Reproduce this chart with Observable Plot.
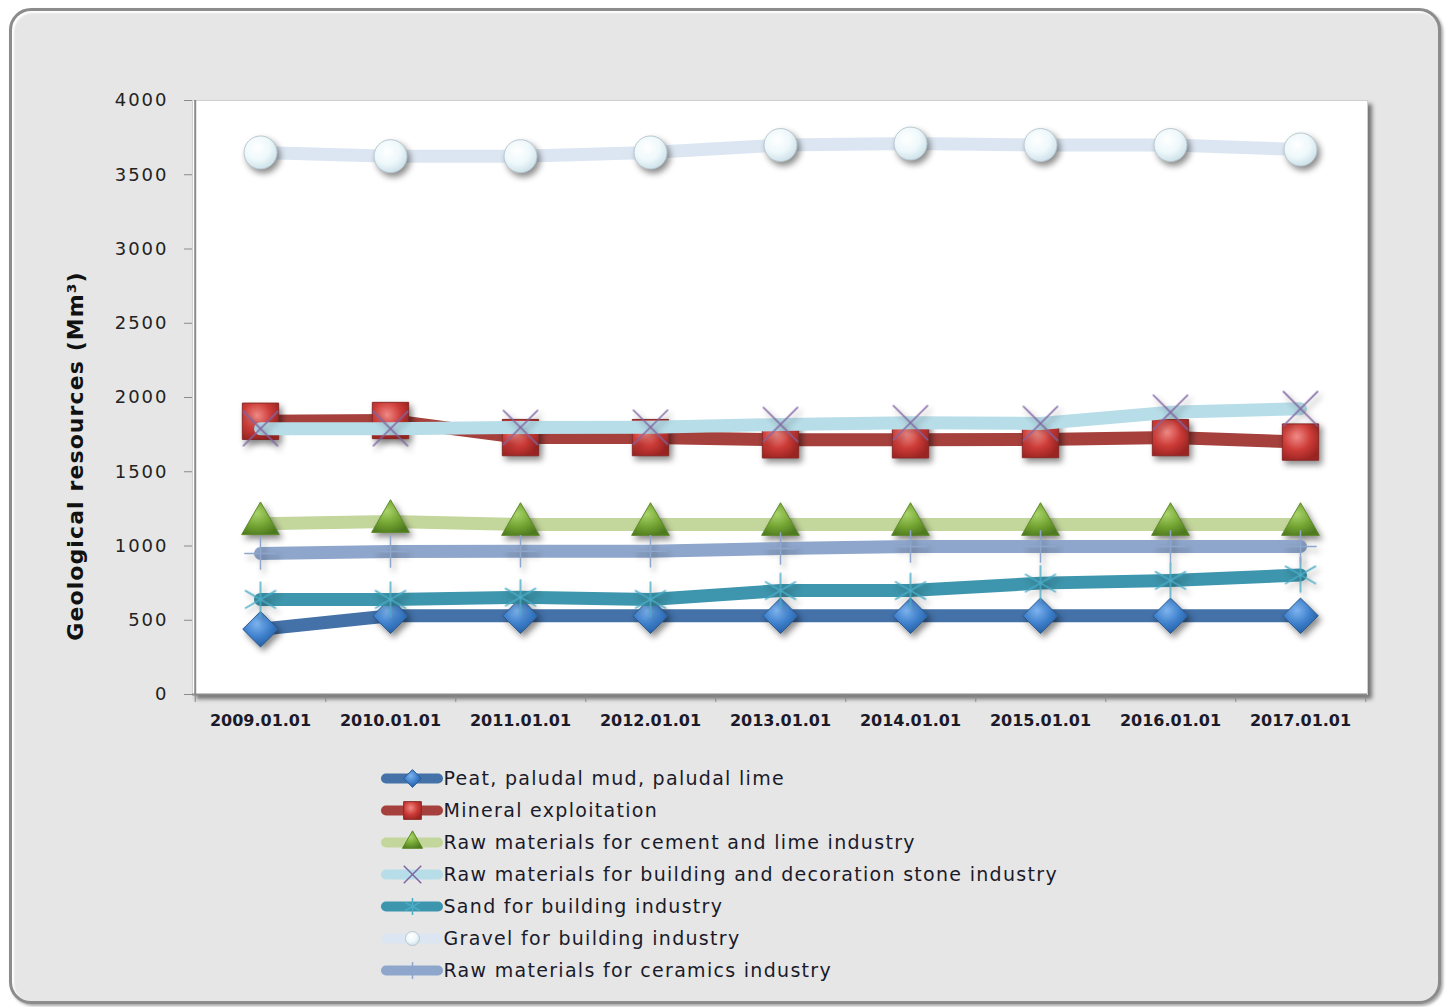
<!DOCTYPE html>
<html>
<head>
<meta charset="utf-8">
<script src="https://cdn.jsdelivr.net/npm/d3@7"></script>
<script src="https://cdn.jsdelivr.net/npm/@observablehq/plot@0.6"></script>
<style>
  html, body { margin: 0; padding: 0; background: #ffffff; }
  body { width: 1446px; height: 1007px; position: relative; overflow: hidden; font-family: "DejaVu Sans", sans-serif; }
  #card { position: absolute; left: 9px; top: 8px; width: 1426px; height: 990px; background: #e6e6e6;
          border: 3px solid #8c8c8c; border-radius: 22px;
          box-shadow: inset 2px 2px 2px #ffffff, 2px 2px 3px rgba(0,0,0,0.35); }
  #chart { position: absolute; left: 0; top: 0; }
  #legend { position: absolute; left: 0; top: 755px; }
  #ytitle { position: absolute; left: 75px; top: 456px; transform: translate(-50%, -50%) rotate(-90deg);
            white-space: nowrap; font-weight: bold; font-size: 22px; letter-spacing: 1.1px; color: #111; }
  #chart [aria-label="frame"] { filter: drop-shadow(4px 4px 2px rgba(0,0,0,0.5)); }
  #chart g[aria-label="dot"] { filter: drop-shadow(3px 4px 3px rgba(0,0,0,0.45)); }
</style>
</head>
<body>
<div id="card"></div>
<div id="chart"></div>
<div id="legend"></div>
<div id="ytitle">Geological resources (Mm³)</div>
<script>
const categories = ["2009.01.01","2010.01.01","2011.01.01","2012.01.01","2013.01.01","2014.01.01","2015.01.01","2016.01.01","2017.01.01"];
const seriesNames = [
  "Peat, paludal mud, paludal lime",
  "Mineral exploitation",
  "Raw materials for cement and lime industry",
  "Raw materials for building and decoration stone industry",
  "Sand for building industry",
  "Gravel for building industry",
  "Raw materials for ceramics industry"
];
const peatValues     = [440, 530, 530, 530, 530, 530, 530, 530, 530];
const mineralValues  = [1840, 1845, 1730, 1730, 1715, 1715, 1717, 1730, 1700];
const cementValues   = [1150, 1165, 1145, 1145, 1145, 1145, 1145, 1145, 1145];
const stoneValues    = [1790, 1790, 1798, 1800, 1818, 1830, 1825, 1900, 1925];
const sandValues     = [640, 640, 655, 640, 700, 700, 750, 768, 805];
const gravelValues   = [3650, 3625, 3625, 3650, 3700, 3710, 3700, 3700, 3670];
const ceramicsValues = [950, 963, 965, 965, 983, 997, 997, 997, 997];
const yTicks = [0, 500, 1000, 1500, 2000, 2500, 3000, 3500, 4000];

const seriesValues = [peatValues, mineralValues, cementValues, stoneValues, sandValues, gravelValues, ceramicsValues];

const styles = [
  {line:"#4371a8", symbol:"diamond2", fill:"url(#gBlue)",  stroke:"#2b5a92", sw:1,   r:16,   lr:8},
  {line:"#a5403c", symbol:"square",   fill:"url(#gRed)",   stroke:"#8a2b28", sw:1,   r:20.5, lr:10},
  {line:"#c3d69b", symbol:"triangle", fill:"url(#gGreen)", stroke:"#5f8a2a", sw:1,   r:14,   lr:7.5},
  {line:"#b7dde8", symbol:"times",    fill:"none",         stroke:"#7f64a2", sw:1.5, r:16,   lr:8},
  {line:"#3d96ad", symbol:"asterisk", fill:"none",         stroke:"#4bacc6", sw:1.5, r:17,   lr:8},
  {line:"#dce6f2", symbol:"circle",   fill:"url(#gWhite)", stroke:"#b9c7cf", sw:1,   r:16.5, lr:7},
  {line:"#8ea6cb", symbol:"plus",     fill:"none",         stroke:"#8ea6cb", sw:1.5, r:10.5, lr:5.5}
];

const W = 1446, H = 740, mL = 192, mR = 79, mT = 100, mB = 46;
const step = (W - mL - mR) / categories.length;

const seriesMarks = seriesNames.flatMap((name, s) => {
  const data = categories.map((c, i) => ({cat: c, value: seriesValues[s][i]}));
  const st = styles[s];
  return [
    Plot.line(data, {x: "cat", y: "value", stroke: st.line, strokeWidth: 13, strokeLinecap: "round", strokeLinejoin: "round"}),
    Plot.dot(data, {x: "cat", y: "value", symbol: st.symbol, r: st.r, fill: st.fill, stroke: st.stroke, strokeWidth: st.sw})
  ];
});

const chart = Plot.plot({
  width: W, height: H,
  marginLeft: mL, marginRight: mR, marginTop: mT, marginBottom: mB,
  style: {background: "transparent", fontFamily: "DejaVu Sans", color: "#222"},
  x: {type: "point", domain: categories, padding: 0.5},
  y: {domain: [0, 4000]},
  marks: [
    Plot.frame({fill: "white", stroke: "#d0d0d0"}),
    Plot.axisY({ticks: yTicks, tickSize: 8, tickPadding: 16, tickFormat: d => String(d), label: null, stroke: "#8a8a8a", fontSize: 18, fill: "#222"}),
    Plot.axisX({tickSize: 0, tickPadding: 20, label: null, fontSize: 16, fontWeight: "bold", fill: "#1a1a2a"}),
    Plot.ruleX([categories[0]], {x: d => d, dx: -step / 2, stroke: "#8a8a8a", strokeWidth: 2}),
    Plot.ruleX([categories[0]], {x: d => d, dx: -step / 2, y1: 0, y2: 0, insetBottom: -8, stroke: "#8a8a8a"}),
    Plot.ruleX(categories, {x: d => d, dx: step / 2, y1: 0, y2: 0, insetBottom: -8, stroke: "#8a8a8a"}),
    Plot.ruleY([0], {stroke: "#8a8a8a", strokeWidth: 2}),
    ...seriesMarks
  ]
});

function addDefs(svg) {
  const defs = d3.select(svg).insert("defs", ":first-child");
  const grads = [
    ["gBlue",  "#7db3ee", "#3d7fcb", "#235a9b"],
    ["gRed",   "#f08a86", "#cc3b37", "#9a2422"],
    ["gGreen", "#a8d36a", "#74a533", "#4e7a1f"],
    ["gWhite", "#ffffff", "#eef8fb", "#c9dfe7"]
  ];
  for (const [id, c0, c1, c2] of grads) {
    const g = defs.append("radialGradient").attr("id", id).attr("cx", "40%").attr("cy", "35%").attr("r", "70%");
    g.append("stop").attr("offset", "0%").attr("stop-color", c0);
    g.append("stop").attr("offset", "55%").attr("stop-color", c1);
    g.append("stop").attr("offset", "100%").attr("stop-color", c2);
  }
}
addDefs(chart);
d3.selectAll(chart.querySelectorAll('[aria-label="y-axis tick label"] text')).attr("letter-spacing", "2px");
document.getElementById("chart").appendChild(chart);

const legendMarks = seriesNames.flatMap((name, s) => {
  const st = styles[s];
  return [
    Plot.ruleY([name], {y: d => d, x1: 0, x2: 1, stroke: st.line, strokeWidth: 10, strokeLinecap: "round"}),
    Plot.dot([name], {x: () => 0.5, y: d => d, symbol: st.symbol, r: st.lr, fill: st.fill, stroke: st.stroke, strokeWidth: st.sw})
  ];
});

const legend = Plot.plot({
  width: W, height: 240,
  marginLeft: 386, marginRight: 1446 - 438, marginTop: 21, marginBottom: 23,
  style: {background: "transparent", fontFamily: "DejaVu Sans", color: "#222", overflow: "visible"},
  x: {domain: [0, 1], axis: null},
  y: {type: "point", domain: seriesNames, padding: 0, axis: null},
  marks: [
    ...legendMarks,
    Plot.text(seriesNames, {x: () => 1, y: d => d, text: d => d, dx: 5, textAnchor: "start", fontSize: 19, fill: "#1a1a2a"})
  ]
});
addDefs(legend);
d3.selectAll(legend.querySelectorAll('[aria-label="text"] text')).attr("letter-spacing", "1.3px");
document.getElementById("legend").appendChild(legend);
</script>
</body>
</html>
